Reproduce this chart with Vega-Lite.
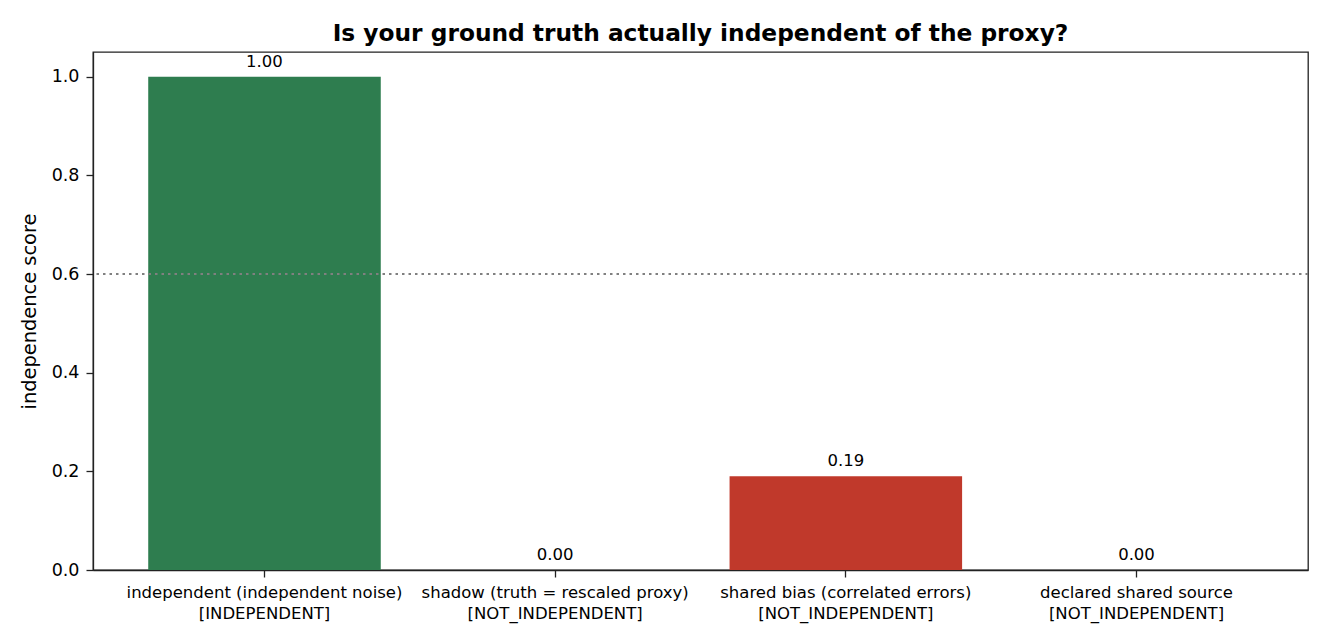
{
  "$schema": "https://vega.github.io/schema/vega-lite/v6.json",
  "width": 1215,
  "height": 518,
  "autosize": {"type": "none"},
  "padding": {"left": 93, "top": 52, "right": 22, "bottom": 74},
  "title": {
    "text": "Is your ground truth actually independent of the proxy?",
    "font": "DejaVu Sans",
    "fontSize": 23.3,
    "fontWeight": "bold",
    "color": "black",
    "offset": 6
  },
  "data": {
    "values": [
      {"scenario": "independent (independent noise)|[INDEPENDENT]", "score": 1.0, "verdict": "INDEPENDENT"},
      {"scenario": "shadow (truth = rescaled proxy)|[NOT_INDEPENDENT]", "score": 0.0, "verdict": "NOT_INDEPENDENT"},
      {"scenario": "shared bias (correlated errors)|[NOT_INDEPENDENT]", "score": 0.19, "verdict": "NOT_INDEPENDENT"},
      {"scenario": "declared shared source|[NOT_INDEPENDENT]", "score": 0.0, "verdict": "NOT_INDEPENDENT"}
    ]
  },
  "layer": [
    {
      "mark": {"type": "bar"},
      "encoding": {
        "x": {
          "field": "scenario",
          "type": "nominal",
          "sort": null,
          "scale": {"paddingInner": 0.2, "paddingOuter": 0.19},
          "axis": {
            "title": null,
            "labelAngle": 0,
            "labelExpr": "split(datum.label, '|')",
            "labelFont": "DejaVu Sans",
            "labelFontSize": 16.5,
            "labelColor": "black",
            "labelLineHeight": 21.5,
            "labelLimit": 0,
            "labelPadding": 7,
            "tickColor": "#222222",
            "tickSize": 7,
            "tickWidth": 1.3,
            "domainColor": "#222222"
          }
        },
        "y": {
          "field": "score",
          "type": "quantitative",
          "scale": {"domain": [0, 1.05], "nice": false},
          "axis": {
            "title": "independence score",
            "titleFont": "DejaVu Sans",
            "titleFontSize": 19.4,
            "titleFontWeight": "normal",
            "titleColor": "black",
            "titlePadding": 12,
            "values": [0, 0.2, 0.4, 0.6, 0.8, 1.0],
            "format": ".1f",
            "labelFont": "DejaVu Sans",
            "labelFontSize": 17.5,
            "labelColor": "black",
            "labelPadding": 7,
            "tickColor": "#222222",
            "tickSize": 7,
            "tickWidth": 1.3,
            "grid": false,
            "domainColor": "#222222"
          }
        },
        "color": {
          "field": "verdict",
          "type": "nominal",
          "scale": {"domain": ["INDEPENDENT", "NOT_INDEPENDENT"], "range": ["#2e7d4f", "#c0392b"]},
          "legend": null
        }
      }
    },
    {
      "mark": {"type": "text", "baseline": "bottom", "dy": -7, "font": "DejaVu Sans", "fontSize": 16.5, "color": "black"},
      "encoding": {
        "x": {"field": "scenario", "type": "nominal", "sort": null},
        "y": {"field": "score", "type": "quantitative"},
        "text": {"field": "score", "type": "quantitative", "format": ".2f"}
      }
    },
    {
      "data": {"values": [{"threshold": 0.6}]},
      "mark": {"type": "rule", "color": "#808080", "strokeDash": [2.5, 4], "strokeWidth": 2},
      "encoding": {
        "y": {"field": "threshold", "type": "quantitative"}
      }
    }
  ],
  "config": {
    "view": {"stroke": "#222222", "strokeWidth": 1.3},
    "axis": {"domainWidth": 1.3}
  }
}
